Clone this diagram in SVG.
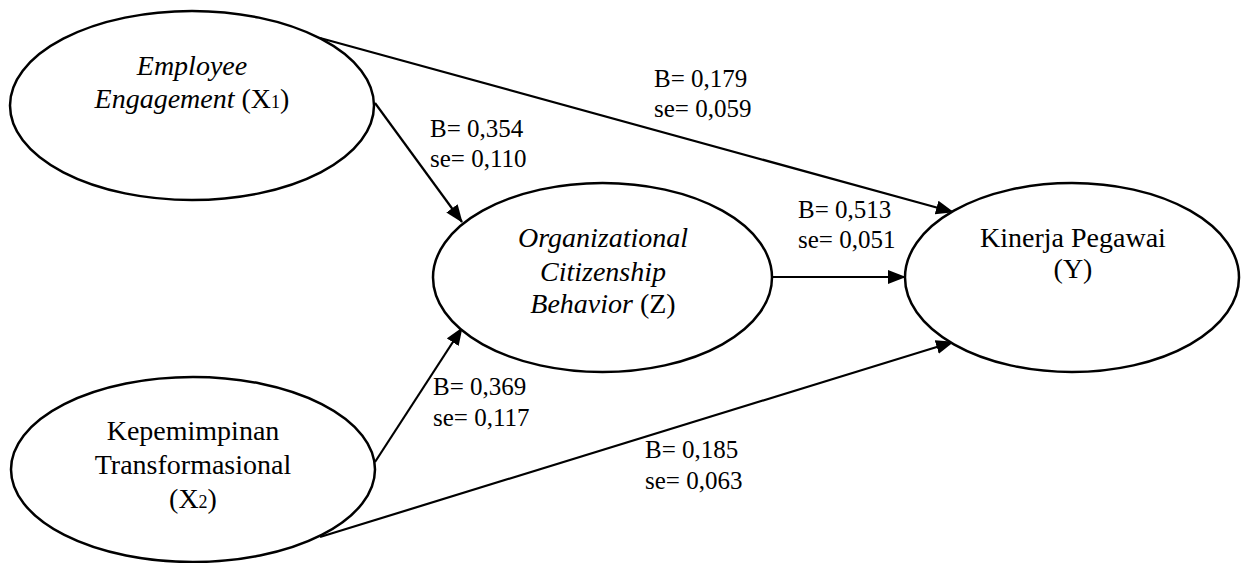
<svg xmlns="http://www.w3.org/2000/svg" width="1241" height="563" viewBox="0 0 1241 563">
<style>
.node{fill:#fff;stroke:#000;stroke-width:2.5}
.conn{stroke:#000;stroke-width:2.2;fill:none}
.nt{font-size:28px;fill:#000;text-anchor:middle}
.it{font-style:italic}
.sub{font-size:18px;font-style:normal}
.lb{font-size:25px;fill:#000}
</style>
<defs>
<marker id="ah" markerUnits="userSpaceOnUse" markerWidth="20" markerHeight="16" refX="17" refY="7" orient="auto">
<path d="M0,0 L18,7 L0,14 z" fill="#000"/>
</marker>
</defs>
<rect width="1241" height="563" fill="#fff"/>
<g id="connectors">
<line class="conn" x1="320" y1="38" x2="953" y2="212" marker-end="url(#ah)"/>
<line class="conn" x1="375" y1="103" x2="462" y2="222" marker-end="url(#ah)"/>
<line class="conn" x1="375" y1="462" x2="462" y2="328" marker-end="url(#ah)"/>
<line class="conn" x1="320" y1="537" x2="953" y2="342" marker-end="url(#ah)"/>
<line class="conn" x1="772" y1="277" x2="905" y2="277" marker-end="url(#ah)"/>
</g>
<g id="labels" font-family="'Liberation Serif', 'Times New Roman', 'DejaVu Serif', serif">
<text class="lb" x="654" y="87">B= 0,179</text>
<text class="lb" x="654" y="117">se= 0,059</text>
<text class="lb" x="430" y="137">B= 0,354</text>
<text class="lb" x="430" y="167">se= 0,110</text>
<text class="lb" x="798" y="218">B= 0,513</text>
<text class="lb" x="798" y="248">se= 0,051</text>
<text class="lb" x="433" y="395">B= 0,369</text>
<text class="lb" x="433" y="426">se= 0,117</text>
<text class="lb" x="645" y="458">B= 0,185</text>
<text class="lb" x="645" y="489">se= 0,063</text>
</g>
<g id="node-x1" font-family="'Liberation Serif', 'Times New Roman', 'DejaVu Serif', serif">
<ellipse class="node" cx="192" cy="105.5" rx="182" ry="94.5"/>
<text class="nt it" x="192" y="75">Employee</text>
<text class="nt" x="192" y="108"><tspan class="it">Engagement</tspan> (X<tspan class="sub">1</tspan>)</text>
</g>
<g id="node-z" font-family="'Liberation Serif', 'Times New Roman', 'DejaVu Serif', serif">
<ellipse class="node" cx="602.5" cy="277.5" rx="169.5" ry="94.5"/>
<text class="nt it" x="603" y="247">Organizational</text>
<text class="nt it" x="603" y="281">Citizenship</text>
<text class="nt" x="603" y="313"><tspan class="it">Behavior</tspan> (Z)</text>
</g>
<g id="node-y" font-family="'Liberation Serif', 'Times New Roman', 'DejaVu Serif', serif">
<ellipse class="node" cx="1072" cy="277.5" rx="167" ry="94.5"/>
<text class="nt" x="1073" y="247">Kinerja Pegawai</text>
<text class="nt" x="1073" y="278">(Y)</text>
</g>
<g id="node-x2" font-family="'Liberation Serif', 'Times New Roman', 'DejaVu Serif', serif">
<ellipse class="node" cx="193" cy="469.5" rx="182" ry="92.5"/>
<text class="nt" x="193" y="440">Kepemimpinan</text>
<text class="nt" x="193" y="474">Transformasional</text>
<text class="nt" x="193" y="508">(X<tspan class="sub">2</tspan>)</text>
</g>
</svg>
